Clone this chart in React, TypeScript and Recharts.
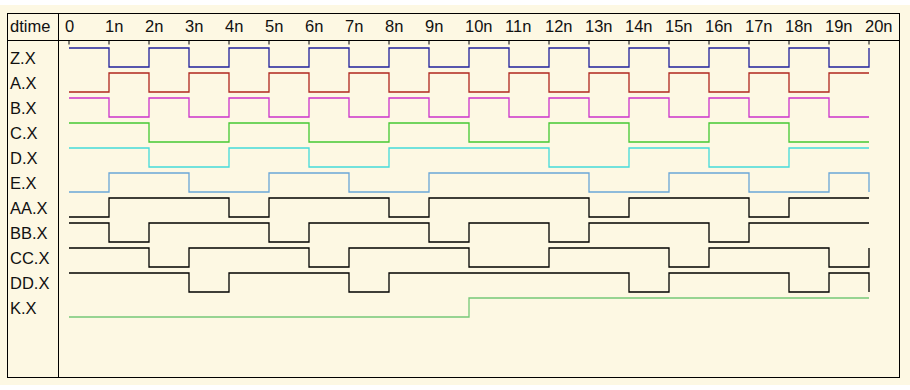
import { LineChart, Line, XAxis, YAxis } from "recharts";

// time axis (ns)
const times = [0, 1, 2, 3, 4, 5, 6, 7, 8, 9, 10, 11, 12, 13, 14, 15, 16, 17, 18, 19, 20];
const tickLabels = ["0", "1n", "2n", "3n", "4n", "5n", "6n", "7n", "8n", "9n", "10n", "11n", "12n", "13n", "14n", "15n", "16n", "17n", "18n", "19n", "20n"];

const signalNames = ["Z.X", "A.X", "B.X", "C.X", "D.X", "E.X", "AA.X", "BB.X", "CC.X", "DD.X", "K.X"];
const signalColors = ["#20209c", "#b0261e", "#cc33cc", "#44c833", "#44dada", "#6aa6d8", "#000000", "#000000", "#000000", "#000000", "#76c878"];

// logic level at each time step (value holds until next step)
const zx = [1, 0, 1, 0, 1, 0, 1, 0, 1, 0, 1, 0, 1, 0, 1, 0, 1, 0, 1, 0, 1];
const ax = [0, 1, 0, 1, 0, 1, 0, 1, 0, 1, 0, 1, 0, 1, 0, 1, 0, 1, 0, 1, 1];
const bx = [1, 0, 1, 0, 1, 0, 1, 0, 1, 0, 1, 0, 1, 0, 1, 0, 1, 0, 1, 0, 0];
const cx = [1, 1, 0, 0, 1, 1, 0, 0, 1, 1, 0, 0, 1, 1, 0, 0, 1, 1, 0, 0, 0];
const dx = [1, 1, 0, 0, 1, 1, 0, 0, 1, 1, 1, 1, 0, 0, 1, 1, 0, 0, 1, 1, 1];
const ex = [0, 1, 1, 0, 0, 1, 1, 0, 0, 1, 1, 1, 1, 0, 0, 1, 1, 0, 0, 1, 0];
const aax = [0, 1, 1, 1, 0, 1, 1, 1, 0, 1, 1, 1, 1, 0, 1, 1, 1, 0, 1, 1, 1];
const bbx = [1, 0, 1, 1, 1, 0, 1, 1, 1, 0, 1, 1, 0, 1, 1, 1, 0, 1, 1, 1, 1];
const ccx = [1, 1, 0, 1, 1, 1, 0, 1, 1, 1, 0, 0, 1, 1, 1, 0, 1, 1, 1, 0, 1];
const ddx = [1, 1, 1, 0, 1, 1, 1, 0, 1, 1, 1, 1, 1, 1, 0, 1, 1, 1, 0, 1, 0];
const kx = [0, 0, 0, 0, 0, 0, 0, 0, 0, 0, 1, 1, 1, 1, 1, 1, 1, 1, 1, 1, 1];

const waves = [zx, ax, bx, cx, dx, ex, aax, bbx, ccx, ddx, kx];

const W = 910;
const H = 390;
const HEADER = 40; // y of the header rule
const FONT = "'Liberation Sans', Arial, Helvetica, sans-serif";
const FS = 16.5;

// each row is one unit tall on the y scale
const HI = 0.32;
const LO = 1.08;
const Y_MAX = 13.48;

const data = times.map((t, ti) => {
  const row: Record<string, number> = { t };
  waves.forEach((w, i) => {
    row["s" + i] = i + (w[ti] ? HI : LO);
  });
  return row;
});

const TimeTick = (props: any) => {
  const { x, payload } = props;
  return (
    <g>
      <text x={x - 4} y={HEADER - 8} fontSize={FS} fontFamily={FONT} fill="#111">
        {tickLabels[payload.index]}
      </text>
      <line x1={x} x2={x} y1={HEADER + 1} y2={HEADER + 4.5} stroke="#000" strokeWidth={1} />
    </g>
  );
};

const NameTick = (props: any) => {
  const { y, payload } = props;
  return (
    <text x={10} y={y} fontSize={FS} fontFamily={FONT} fill="#111">
      {signalNames[Math.floor(payload.value)]}
    </text>
  );
};

export default function App() {
  return (
    <div style={{ position: "absolute", left: 0, top: 0, width: W, height: H, background: "#fff" }}>
      <div style={{ position: "absolute", left: 0, top: 5, width: W, height: 380, background: "#fdf8e3" }} />
      <div
        style={{
          position: "absolute",
          left: 7,
          top: 13,
          width: 891,
          height: 363,
          border: "1px solid #000",
        }}
      />
      <div style={{ position: "absolute", left: 7, top: HEADER, width: 892, height: 1, background: "#000" }} />
      <div style={{ position: "absolute", left: 58, top: 13, width: 1, height: 364, background: "#000" }} />
      <svg style={{ position: "absolute", left: 0, top: 0 }} width={80} height={40}>
        <text x={10} y={HEADER - 8} fontSize={FS} fontFamily={FONT} fill="#111">
          dtime
        </text>
      </svg>
      <div style={{ position: "absolute", left: 0, top: 0 }}>
        <LineChart width={W} height={H} data={data} margin={{ top: 0, right: 41, left: 0, bottom: 13 }}>
          <XAxis
            dataKey="t"
            type="number"
            orientation="top"
            domain={[0, 20]}
            ticks={times}
            height={HEADER}
            axisLine={false}
            tickLine={false}
            tick={<TimeTick />}
            interval={0}
          />
          <YAxis
            type="number"
            domain={[0, Y_MAX]}
            reversed
            width={69}
            ticks={signalNames.map((_, i) => i + 0.97)}
            axisLine={false}
            tickLine={false}
            tick={<NameTick />}
            interval={0}
          />
          {signalNames.map((n, i) => (
            <Line
              key={n}
              dataKey={"s" + i}
              type="stepAfter"
              stroke={signalColors[i]}
              strokeWidth={1.3}
              dot={false}
              isAnimationActive={false}
            />
          ))}
        </LineChart>
      </div>
    </div>
  );
}
